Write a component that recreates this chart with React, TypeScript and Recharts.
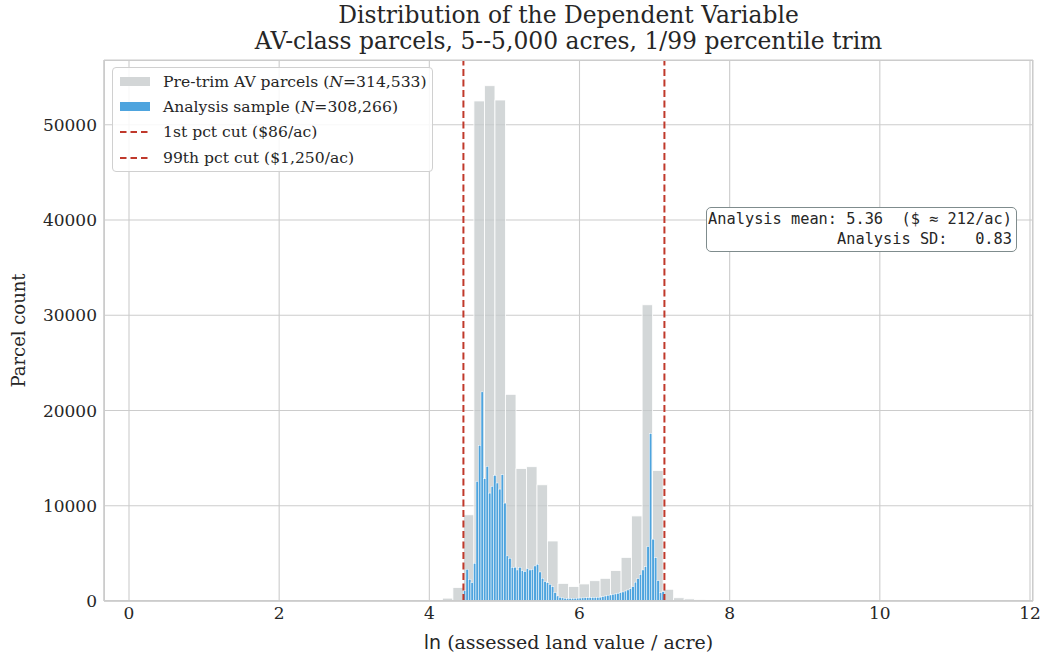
import { Bar, CartesianGrid, ComposedChart, Label, ReferenceLine, XAxis, YAxis } from "recharts";

// pre-trim histogram: equal-width bins starting at the first edge
const preTrimFirstEdge = 3.894;
const preTrimBinWidth = 0.14;
const preTrimCounts = [
  40, 90, 300, 1420, 9050, 52500, 54100, 52600, 21700, 13900, 14100, 12200, 6300, 1850, 1520, 1790,
  2130, 2380, 3190, 4580, 8930, 31100, 13700, 1230, 340, 220, 150, 90, 60, 35, 20,
];

// analysis sample: 80 bins between the two cuts
const sampleLow = 4.454;
const sampleHigh = 7.131;
const sampleCounts = [
  1090, 3330, 2280, 1930, 3960, 12560, 16350, 21960, 12840, 14140, 11330, 12040, 13190, 12390, 11750, 13260,
  10280, 4740, 4490, 3540, 3540, 3260, 3540, 3190, 3090, 3400, 3260, 3330, 3680, 3860, 3050, 2390,
  2040, 1930, 1750, 1510, 880, 530, 390, 330, 290, 280, 280, 290, 290, 300, 310, 330,
  340, 350, 360, 370, 380, 390, 400, 455, 525, 600, 630, 700, 740, 800, 880, 950,
  1050, 1160, 1300, 1510, 1980, 2350, 2790, 3260, 3610, 5720, 17580, 6490, 4560, 2140, 880, 980,
];

const cutValues = [4.454, 7.131];
const xTicks = [0, 2, 4, 6, 8, 10, 12];
const yTicks = [0, 10000, 20000, 30000, 40000, 50000];

const W = 1043;
const H = 655;
const plot = { left: 104, top: 60, right: 1033, bottom: 601 };
const xDomain: [number, number] = [-0.333, 12.04];
const yDomain: [number, number] = [0, 56800];

const serif = "'DejaVu Serif', serif";
const mono = "'DejaVu Sans Mono', monospace";
const sans = "'DejaVu Sans', sans-serif";
const ink = "#262626";
const gray = "#c4c9cb";
const blue = "#4ea4de";
const red = "#c0392b";

const sampleBinWidth = (sampleHigh - sampleLow) / sampleCounts.length;
const rows = [
  ...preTrimCounts.map((c, k) => ({ x: preTrimFirstEdge + preTrimBinWidth * (k + 0.5), pre: c })),
  ...sampleCounts.map((c, i) => ({ x: sampleLow + sampleBinWidth * (i + 0.5), sample: c })),
];

const pxPerUnit = (plot.right - plot.left) / (xDomain[1] - xDomain[0]);

// histogram bar: keep the center the library computed, use the bin's own width
function binShape(binWidth: number, fill: string, fillOpacity: number, strokeWidth: number) {
  const w = binWidth * pxPerUnit;
  return (p: any) => {
    if (p.height == null || !(p.height > 0)) return <g />;
    const cx = p.x + p.width / 2;
    return (
      <rect
        x={cx - w / 2}
        y={p.y}
        width={w}
        height={p.height}
        fill={fill}
        fillOpacity={fillOpacity}
        stroke="#ffffff"
        strokeWidth={strokeWidth}
      />
    );
  };
}

function DashHandle() {
  return (
    <svg width={30} height={6} style={{ display: "block" }}>
      <line x1={0} y1={3} x2={30} y2={3} stroke={red} strokeWidth={2} strokeDasharray="6.5 4" />
    </svg>
  );
}

const legendItems = [
  { kind: "patch", color: "#d3d6d7", text: <>Pre-trim AV parcels (<i>N</i>=314,533)</> },
  { kind: "patch", color: blue, text: <>Analysis sample (<i>N</i>=308,266)</> },
  { kind: "dash", color: red, text: <>1st pct cut ($86/ac)</> },
  { kind: "dash", color: red, text: <>99th pct cut ($1,250/ac)</> },
];

export default function App() {
  return (
    <div style={{ position: "absolute", left: 0, top: 0, width: W, height: H, background: "#fff" }}>
      <div
        style={{
          position: "absolute",
          left: plot.left,
          width: plot.right - plot.left,
          top: 2,
          textAlign: "center",
          fontFamily: serif,
          fontSize: 23.4,
          lineHeight: "26px",
          color: ink,
        }}
      >
        Distribution of the Dependent Variable
        <br />
        AV-class parcels, 5--5,000 acres, 1/99 percentile trim
      </div>

      <ComposedChart
        width={W}
        height={H}
        data={rows}
        margin={{ top: plot.top, right: W - plot.right, bottom: 0, left: 0 }}
        style={{ fontFamily: serif }}
      >
        <CartesianGrid xAxisId="pre" stroke="#cccccc" strokeWidth={1.1} />
        <XAxis
          xAxisId="pre"
          dataKey="x"
          type="number"
          domain={xDomain}
          ticks={xTicks}
          allowDataOverflow
          height={H - plot.bottom}
          tickLine={false}
          tickSize={0}
          tickMargin={6}
          axisLine={{ stroke: "#cccccc", strokeWidth: 1.25 }}
          tick={{ fill: ink, fontSize: 17, fontFamily: serif }}
        >
          <Label
            content={({ viewBox }: any) => (
              <text
                x={viewBox.x + viewBox.width / 2}
                y={649}
                textAnchor="middle"
                fill={ink}
                fontSize={19}
                fontFamily={serif}
              >
                <tspan fontFamily={sans}>ln</tspan>
                <tspan> (assessed land value / acre)</tspan>
              </text>
            )}
          />
        </XAxis>
        <XAxis xAxisId="sample" dataKey="x" type="number" domain={xDomain} allowDataOverflow hide />
        <YAxis
          type="number"
          domain={yDomain}
          ticks={yTicks}
          allowDataOverflow
          width={plot.left}
          tickLine={false}
          tickSize={0}
          tickMargin={7}
          axisLine={{ stroke: "#cccccc", strokeWidth: 1.25 }}
          tick={{ fill: ink, fontSize: 17, fontFamily: serif }}
        >
          <Label
            content={({ viewBox }: any) => {
              const cy = viewBox.y + viewBox.height / 2;
              return (
                <text
                  x={18}
                  y={cy}
                  transform={`rotate(-90 18 ${cy})`}
                  textAnchor="middle"
                  dominantBaseline="central"
                  fill={ink}
                  fontSize={18}
                  fontFamily={serif}
                >
                  Parcel count
                </text>
              );
            }}
          />
        </YAxis>
        <Bar
          xAxisId="pre"
          dataKey="pre"
          shape={binShape(preTrimBinWidth, gray, 0.75, 0.8)}
          isAnimationActive={false}
        />
        <Bar
          xAxisId="sample"
          dataKey="sample"
          shape={binShape(sampleBinWidth, blue, 1, 0.5)}
          isAnimationActive={false}
        />
        {cutValues.map((v) => (
          <ReferenceLine
            key={v}
            xAxisId="pre"
            x={v}
            stroke={red}
            strokeWidth={2}
            strokeDasharray="7 3.5"
          />
        ))}
      </ComposedChart>

      <div
        style={{
          position: "absolute",
          left: plot.left,
          top: plot.top,
          width: plot.right - plot.left,
          height: plot.bottom - plot.top,
          boxSizing: "border-box",
          border: "1.25px solid #cccccc",
          pointerEvents: "none",
        }}
      />

      <div
        style={{
          position: "absolute",
          left: 112,
          top: 67,
          width: 321,
          height: 105,
          boxSizing: "border-box",
          border: "1px solid #d0d0d0",
          borderRadius: 4,
          background: "rgba(255,255,255,0.85)",
          paddingTop: 1,
          fontFamily: serif,
          fontSize: 15.6,
          color: ink,
        }}
      >
        {legendItems.map((it, i) => (
          <div key={i} style={{ display: "flex", alignItems: "center", height: 25.3 }}>
            <div style={{ width: 30, marginLeft: 7, marginRight: 13 }}>
              {it.kind === "patch" ? (
                <div style={{ width: 30, height: 9, background: it.color }} />
              ) : (
                <DashHandle />
              )}
            </div>
            <span style={{ whiteSpace: "nowrap" }}>{it.text}</span>
          </div>
        ))}
      </div>

      <div
        style={{
          position: "absolute",
          left: 706,
          top: 207,
          width: 311,
          height: 45,
          boxSizing: "border-box",
          border: "1.5px solid #7f8c8d",
          borderRadius: 5,
          background: "#fff",
          padding: "1px 4px 0 0",
          fontFamily: mono,
          fontSize: 15.3,
          lineHeight: "20px",
          textAlign: "right",
          whiteSpace: "pre",
          color: ink,
        }}
      >
        {"Analysis mean: 5.36  ($ ≈ 212/ac)"}
        <br />
        {"Analysis SD:   0.83"}
      </div>
    </div>
  );
}
